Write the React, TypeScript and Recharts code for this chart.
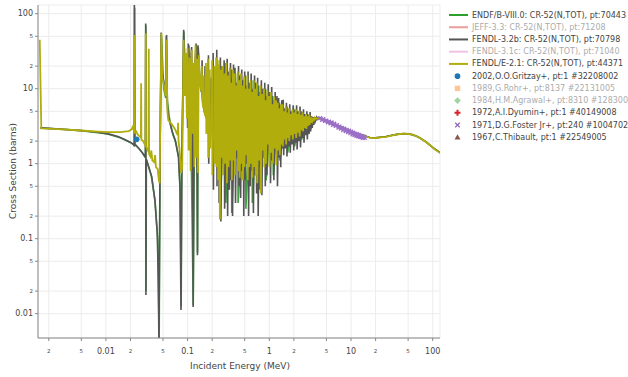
import * as React from "react"
import { ComposedChart, Line, Scatter, XAxis, YAxis, CartesianGrid } from "recharts"

// axis ticks
const xTicks = [0.002, 0.005, 0.01, 0.02, 0.05, 0.1, 0.2, 0.5, 1, 2, 5, 10, 20, 50, 100]
const yTicks = [0.01, 0.02, 0.05, 0.1, 0.2, 0.5, 1, 2, 5, 10, 20, 50, 100]

// ENDF/B-VIII.0 (energy MeV, cross section b)
const endf80: [number, number][] = [
  [0.00158, 3.0], [0.005, 2.76], [0.01, 2.52], [0.015, 2.22], [0.02, 1.92], [0.0224, 1.75], [0.0225, 120],
  [0.0227, 1.8], [0.026, 1.55], [0.0306, 1.2], [0.0308, 70], [0.031, 0.02], [0.0313, 1.15], [0.036, 0.68],
  [0.04, 0.32], [0.043, 0.1], [0.0449, 0.0045], [0.046, 1.5], [0.0478, 52], [0.051, 10], [0.054, 7.5],
  [0.0548, 50], [0.0565, 7], [0.06, 4], [0.066, 2.45], [0.072, 1.9], [0.078, 1.2], [0.0815, 0.4],
  [0.0835, 0.0125], [0.0845, 0.8], [0.0898, 58], [0.095, 12], [0.104, 38], [0.109, 5], [0.1172, 0.013],
  [0.122, 7], [0.128, 38], [0.1325, 0.065], [0.135, 36], [0.142, 12.5], [0.16, 5.2], [0.19, 3.0], [0.23, 2.05],
  [0.247, 20], [0.25, 0.2], [0.29, 22], [0.294, 0.3], [0.343, 18], [0.347, 0.22], [0.41, 16], [0.415, 0.3],
  [0.51, 15], [0.517, 0.25], [0.61, 13], [0.62, 0.3], [0.74, 11], [0.75, 0.45], [0.9, 10], [0.915, 0.6],
  [1.1, 8], [1.12, 0.7], [1.33, 6.5], [1.35, 1.1], [1.65, 5.8], [1.68, 1.4], [2.0, 5.4], [2.04, 1.7],
  [2.45, 5.0], [2.49, 2.1], [2.95, 4.6], [3.0, 2.5], [3.7, 4.1], [4.17, 4.0], [5, 3.68], [6, 3.43], [8, 3.0],
  [10, 2.69], [12, 2.51], [14, 2.39], [17, 2.23], [20, 2.21], [27, 2.3], [38, 2.48], [50, 2.51], [66, 2.28],
  [85, 1.91], [105, 1.58], [125, 1.39], [150, 1.2],
]

// FENDL-3.2b
const fendl32b: [number, number][] = [
  [0.00158, 3.0], [0.003, 2.88], [0.005, 2.76], [0.008, 2.62], [0.011, 2.48], [0.014, 2.3], [0.017, 2.1],
  [0.02, 1.92], [0.0219, 1.8], [0.0222, 1.7], [0.0223, 200], [0.0225, 1.85], [0.025, 1.62], [0.028, 1.4],
  [0.0304, 1.22], [0.0307, 74], [0.0309, 0.0178], [0.0311, 1.15], [0.0335, 0.9], [0.0364, 0.67],
  [0.0397, 0.33], [0.0425, 0.12], [0.0438, 0.03], [0.0446, 0.004], [0.0462, 2.0], [0.0475, 56], [0.049, 16],
  [0.0515, 12], [0.054, 10], [0.0553, 52], [0.0565, 6], [0.058, 4.3], [0.064, 2.8], [0.0704, 2.07],
  [0.0772, 1.24], [0.0806, 0.49], [0.083, 0.0112], [0.0855, 1.5], [0.0895, 61], [0.093, 15], [0.097, 25],
  [0.1, 3], [0.102, 40], [0.105, 6], [0.108, 20], [0.112, 36], [0.115, 3], [0.117, 0.0123], [0.12, 5],
  [0.124, 25], [0.127, 40], [0.13, 3], [0.132, 0.06], [0.134, 38], [0.138, 18], [0.141, 13], [0.148, 9],
  [0.1505, 24], [0.152, 8], [0.156, 5.8], [0.162, 4.8], [0.1635, 20], [0.165, 4.5], [0.172, 3.9],
  [0.1785, 3.4], [0.18, 28], [0.1815, 1.0], [0.183, 3.2], [0.19, 3.0], [0.1935, 14], [0.195, 2.8],
  [0.204, 2.5], [0.2055, 30], [0.207, 0.45], [0.209, 2.4], [0.216, 2.2], [0.2175, 12], [0.219, 2.1],
  [0.226, 2.05], [0.2275, 33], [0.229, 0.5], [0.231, 2.0],
  [0.24, 18], [0.243, 0.3], [0.252, 26], [0.2555, 0.17], [0.265, 20], [0.269, 1.0], [0.28, 24], [0.284, 0.25],
  [0.295, 15], [0.299, 0.7], [0.305, 25], [0.309, 0.2], [0.32, 17], [0.324, 0.45], [0.335, 22], [0.34, 0.6],
  [0.35, 14], [0.355, 0.2], [0.365, 21], [0.37, 0.9], [0.38, 19], [0.386, 0.3], [0.4, 12], [0.406, 1.2],
  [0.42, 20], [0.426, 0.5], [0.44, 15], [0.446, 0.35], [0.46, 18], [0.467, 0.8], [0.48, 13], [0.487, 0.2],
  [0.5, 17], [0.507, 0.6], [0.525, 11], [0.532, 1.0], [0.55, 17], [0.558, 0.2], [0.575, 12], [0.583, 0.5],
  [0.6, 16], [0.609, 0.8], [0.63, 10], [0.639, 0.22], [0.66, 15], [0.67, 0.7], [0.69, 12], [0.7, 0.4],
  [0.72, 14], [0.731, 0.2], [0.76, 9], [0.771, 0.9], [0.8, 13], [0.812, 0.38], [0.84, 10], [0.852, 1.2],
  [0.88, 12], [0.893, 0.5], [0.92, 8], [0.934, 0.7], [0.97, 11.5], [0.984, 1.5], [1.02, 9], [1.035, 0.55],
  [1.07, 10.5], [1.086, 1.1], [1.12, 7], [1.137, 0.6], [1.18, 9], [1.198, 1.4], [1.24, 8], [1.259, 0.5],
  [1.3, 7.5], [1.32, 1.2], [1.36, 6], [1.38, 0.9], [1.42, 7], [1.44, 1.6], [1.48, 7.1], [1.5, 1.3],
  [1.55, 5.5], [1.57, 1.6], [1.62, 6.5], [1.645, 1.25], [1.7, 5.2], [1.725, 1.7], [1.78, 6.2], [1.805, 1.4],
  [1.87, 5.0], [1.9, 1.8], [1.96, 6.0], [1.99, 1.5], [2.06, 5.2], [2.09, 1.9], [2.16, 6.0], [2.19, 1.55],
  [2.27, 5.0], [2.3, 2.0], [2.38, 5.8], [2.41, 1.65], [2.5, 4.8], [2.54, 2.2], [2.62, 5.3], [2.66, 1.9],
  [2.75, 4.6], [2.79, 2.4], [2.88, 5.0], [2.92, 2.1], [3.02, 4.5], [3.06, 2.5], [3.16, 4.9], [3.2, 2.7],
  [3.3, 4.3], [3.35, 3.0], [3.45, 4.2], [3.5, 3.3], [3.6, 4.1], [3.66, 3.7], [3.8, 4.15], [3.86, 3.9],
  [4.0, 4.05], [4.17, 4.0], [5, 3.68], [6, 3.43], [7, 3.2], [8, 3.0], [9, 2.83], [10, 2.69], [11, 2.59],
  [12, 2.51], [13, 2.45], [14, 2.39], [15.5, 2.3], [17, 2.23], [18.5, 2.2], [20, 2.21], [23, 2.25], [27, 2.3],
  [32, 2.39], [38, 2.48], [44, 2.53], [50, 2.51], [58, 2.43], [66, 2.28], [75, 2.11], [85, 1.91], [95, 1.73],
  [105, 1.58], [115, 1.48], [125, 1.39], [150, 1.2],
]

// FENDL/E-2.1
const fendlE21: [number, number][] = [
  [0.00155, 45], [0.00162, 2.95], [0.003, 2.86], [0.005, 2.77], [0.008, 2.68], [0.011, 2.63], [0.015, 2.64],
  [0.019, 2.72], [0.0205, 2.85], [0.0213, 3.1], [0.0217, 2.9], [0.0221, 2.75], [0.0223, 52], [0.0225, 2.6],
  [0.0235, 2.7], [0.0245, 2.45], [0.0255, 2.35], [0.0268, 2.25], [0.027, 11.8], [0.0272, 2.1], [0.0285, 2.0],
  [0.03, 1.8], [0.0305, 1.75], [0.0307, 55], [0.0309, 1.7], [0.032, 1.55], [0.0332, 1.45], [0.0335, 34],
  [0.0338, 1.35], [0.035, 1.25], [0.036, 1.5], [0.037, 1.1], [0.039, 1.05], [0.04, 1.3], [0.041, 0.9],
  [0.043, 0.85], [0.0445, 0.6], [0.0455, 0.55], [0.0462, 3], [0.0478, 55], [0.049, 14], [0.0515, 11],
  [0.054, 8], [0.0552, 45], [0.0565, 5], [0.058, 3.8], [0.062, 3.5], [0.066, 3.2], [0.07, 2.9], [0.073, 2.6],
  [0.0755, 2.4], [0.0765, 3.5], [0.0775, 2.0], [0.0795, 1.6], [0.0815, 1.1], [0.083, 0.75], [0.086, 0.9],
  [0.0895, 45], [0.092, 8], [0.095, 30], [0.098, 4], [0.1, 35], [0.103, 1.5], [0.106, 26], [0.109, 0.8],
  [0.112, 33], [0.115, 2.5], [0.118, 22], [0.121, 0.9], [0.125, 38], [0.128, 1.2], [0.131, 25], [0.134, 0.75],
  [0.137, 28], [0.141, 12], [0.146, 9.5], [0.1495, 20], [0.151, 7], [0.156, 5.5], [0.1575, 15], [0.159, 5],
  [0.166, 4.3], [0.168, 22], [0.1695, 2.5], [0.172, 3.8], [0.176, 3.5], [0.1775, 25], [0.179, 1.2],
  [0.181, 3.3], [0.186, 3.1], [0.187, 18], [0.189, 1.6], [0.191, 3.0], [0.198, 2.8], [0.1995, 24],
  [0.201, 0.7], [0.203, 2.6], [0.211, 2.4], [0.212, 20], [0.214, 1.0], [0.222, 2.2], [0.2235, 26],
  [0.225, 0.9], [0.233, 21], [0.236, 0.6], [0.244, 24], [0.2485, 0.18], [0.255, 18], [0.26, 1.2], [0.268, 20],
  [0.273, 0.7], [0.283, 16], [0.288, 1.0], [0.298, 22], [0.303, 0.55], [0.313, 15], [0.318, 0.9],
  [0.328, 19], [0.333, 1.1], [0.343, 12], [0.348, 0.6], [0.358, 18], [0.363, 1.1], [0.374, 16], [0.379, 0.7],
  [0.392, 11], [0.397, 1.5], [0.411, 17], [0.416, 0.8], [0.43, 13], [0.435, 0.65], [0.451, 16], [0.456, 1.0],
  [0.471, 11], [0.476, 0.6], [0.492, 14.5], [0.497, 0.9], [0.515, 10], [0.52, 1.3], [0.538, 15], [0.544, 0.6],
  [0.563, 10], [0.569, 0.9], [0.59, 13], [0.596, 1.0], [0.617, 9], [0.623, 0.65], [0.645, 13], [0.652, 0.9],
  [0.675, 10], [0.682, 0.7], [0.705, 12], [0.712, 0.55], [0.74, 8], [0.748, 1.1], [0.78, 11], [0.788, 0.4],
  [0.82, 8.5], [0.83, 1.5], [0.86, 10], [0.87, 0.9], [0.9, 7], [0.91, 1.0], [0.945, 9.5], [0.955, 1.8],
  [0.995, 8], [1.005, 0.9], [1.045, 9], [1.055, 1.4], [1.095, 6.2], [1.105, 1.0], [1.15, 7.8], [1.16, 1.6],
  [1.21, 7], [1.22, 0.95], [1.27, 6.5], [1.28, 1.5], [1.33, 5.5], [1.345, 1.3], [1.39, 6.2], [1.405, 1.8],
  [1.45, 6.2], [1.465, 1.7], [1.52, 5], [1.535, 2.1], [1.59, 5.8], [1.605, 1.8], [1.665, 4.8], [1.68, 2.2],
  [1.74, 5.5], [1.755, 2.0], [1.83, 4.6], [1.85, 2.4], [1.92, 5.3], [1.94, 2.1], [2.01, 4.8], [2.03, 2.5],
  [2.11, 5.3], [2.13, 2.2], [2.22, 4.6], [2.24, 2.6], [2.33, 5.1], [2.35, 2.3], [2.44, 4.5], [2.46, 2.8],
  [2.56, 4.8], [2.58, 2.7], [2.69, 4.3], [2.71, 3.0], [2.82, 4.6], [2.84, 2.9], [2.95, 4.3], [2.97, 3.2],
  [3.09, 4.5], [3.11, 3.3], [3.23, 4.15], [3.25, 3.5], [3.38, 4.1], [3.4, 3.7], [3.55, 4.05], [3.58, 3.85],
  [3.75, 4.05], [3.9, 3.95], [4.17, 3.95], [5, 3.65], [6, 3.4], [7, 3.17], [8, 2.97], [9, 2.8], [10, 2.67],
  [11, 2.57], [12, 2.5], [13, 2.44], [14, 2.38], [15.5, 2.3], [17, 2.22], [18.5, 2.19], [20, 2.2], [23, 2.24],
  [27, 2.28], [32, 2.38], [38, 2.47], [44, 2.52], [50, 2.5], [58, 2.42], [66, 2.27], [75, 2.1], [85, 1.9],
  [95, 1.72], [105, 1.57], [115, 1.47], [125, 1.38], [150, 1.2],
]

// experimental points
const gritzay2002: [number, number][] = [[0.0238, 2.11]]
const dyumin1972: [number, number][] = [[2.53e-8, 3.0]]
const thibault1967: [number, number][] = [[2.53e-8, 3.04]]
const foster1971: [number, number][] = [
  [4.2, 4.05], [4.4, 3.82], [4.6, 3.95], [4.8, 3.7], [5.0, 3.76], [5.2, 3.55], [5.4, 3.66], [5.6, 3.45],
  [5.8, 3.56], [6.0, 3.28], [6.25, 3.42], [6.5, 3.18], [6.75, 3.28], [7.0, 3.02], [7.25, 3.14], [7.5, 2.92],
  [7.75, 3.02], [8.0, 2.8], [8.3, 2.94], [8.6, 2.72], [8.9, 2.84], [9.2, 2.62], [9.5, 2.76], [9.8, 2.54],
  [10.1, 2.68], [10.4, 2.46], [10.7, 2.6], [11.0, 2.4], [11.3, 2.53], [11.6, 2.35], [11.9, 2.48], [12.2, 2.31],
  [12.5, 2.43], [12.8, 2.27], [13.1, 2.38], [13.4, 2.24], [13.7, 2.34], [14.0, 2.21], [14.4, 2.3], [14.8, 2.2],
]

const legendItems = [
  { name: "ENDF/B-VIII.0: CR-52(N,TOT), pt:70443", color: "#2ca02c", kind: "line", faded: false },
  { name: "JEFF-3.3: CR-52(N,TOT), pt:71208", color: "#d62728", kind: "line", faded: true },
  { name: "FENDL-3.2b: CR-52(N,TOT), pt:70798", color: "#555555", kind: "line", faded: false },
  { name: "FENDL-3.1c: CR-52(N,TOT), pt:71040", color: "#e377c2", kind: "line", faded: true },
  { name: "FENDL/E-2.1: CR-52(N,TOT), pt:44371", color: "#b0ad0c", kind: "line", faded: false },
  { name: "2002,O.O.Gritzay+, pt:1 #32208002", color: "#1f77b4", kind: "circle", faded: false },
  { name: "1989,G.Rohr+, pt:8137 #22131005", color: "#ff7f0e", kind: "square", faded: true },
  { name: "1984,H.M.Agrawal+, pt:8310 #12830002", color: "#2ca02c", kind: "diamond", faded: true },
  { name: "1972,A.I.Dyumin+, pt:1 #40149008", color: "#d62728", kind: "cross", faded: false },
  { name: "1971,D.G.Foster Jr+, pt:240 #10047025", color: "#9467bd", kind: "x", faded: false },
  { name: "1967,C.Thibault, pt:1 #22549005", color: "#8c564b", kind: "triangle", faded: false },
]

const FONT = "DejaVu Sans, Verdana, sans-serif"
const pts = (arr: [number, number][]) => arr.map(([e, s]) => ({ e, s }))

const tickLabel = (v: number) => {
  const p = Math.floor(Math.log10(v) + 1e-9)
  const m = Math.round(v / Math.pow(10, p))
  return m === 1 ? { text: String(v), major: true } : { text: String(m), major: false }
}

const XTick = (props: any) => {
  const { x, y, payload } = props
  const t = tickLabel(payload.value)
  return (
    <text x={x} y={y + 8} textAnchor="middle" dominantBaseline="central" fontFamily={FONT}
      fontSize={t.major ? 8 : 5.5} fill="#444">
      {t.text}
    </text>
  )
}

const YTick = (props: any) => {
  const { x, y, payload } = props
  const t = tickLabel(payload.value)
  return (
    <text x={x} y={y} textAnchor="end" dominantBaseline="central" fontFamily={FONT}
      fontSize={t.major ? 8 : 5.5} fill="#444">
      {t.text}
    </text>
  )
}

const marker = (kind: string, cx: number, cy: number, color: string, small = false) => {
  if (kind === "circle") return <circle cx={cx} cy={cy} r={2.8} fill={color} />
  if (kind === "square") return <rect x={cx - 2.7} y={cy - 2.7} width={5.4} height={5.4} fill={color} />
  if (kind === "diamond")
    return <path d={`M${cx},${cy - 3.3}L${cx + 3.3},${cy}L${cx},${cy + 3.3}L${cx - 3.3},${cy}Z`} fill={color} />
  if (kind === "cross")
    return <path d={`M${cx - 3},${cy}H${cx + 3}M${cx},${cy - 3}V${cy + 3}`} stroke={color} strokeWidth={2} />
  if (kind === "x") {
    const r = small ? 1.8 : 2.3
    return <path d={`M${cx - r},${cy - r}L${cx + r},${cy + r}M${cx - r},${cy + r}L${cx + r},${cy - r}`}
      stroke={color} strokeWidth={1.4} />
  }
  return <path d={`M${cx},${cy - 3}L${cx + 3},${cy + 2.2}L${cx - 3},${cy + 2.2}Z`} fill={color} />
}

const shapeFor = (kind: string, color: string, small = false) => (p: any) =>
  <g>{marker(kind, p.cx, p.cy, color, small)}</g>

const ChartLegend = () => (
  <svg width={183} height={160} style={{ position: "absolute", left: 445, top: 0 }}>
    {legendItems.map((it, i) => {
      const cy = 15 + i * 12.23
      return (
        <g key={it.name} opacity={it.faded ? 0.45 : 1}>
          {it.kind === "line"
            ? <line x1={4} x2={23} y1={cy} y2={cy} stroke={it.color} strokeWidth={2} />
            : marker(it.kind, 12.5, cy, it.color)}
          <text x={27} y={cy} dominantBaseline="central" fontFamily={FONT} fontSize={8} fill="#444">
            {it.name}
          </text>
        </g>
      )
    })}
  </svg>
)

export default function App() {
  return (
    <div style={{ position: "relative", width: 628, height: 377, background: "#fff", fontFamily: FONT }}>
      <style>{"body{margin:0}"}</style>
      <ComposedChart width={628} height={377} margin={{ top: 5, right: 188, bottom: 0, left: 0 }}>
        <CartesianGrid stroke="#ececec" />
        <XAxis dataKey="e" type="number" scale="log" domain={[0.001476, 122.8]} allowDataOverflow
          ticks={xTicks} interval={0} tick={<XTick />} tickSize={3} height={39}
          axisLine={{ stroke: "#888" }} tickLine={{ stroke: "#888" }} />
        <YAxis dataKey="s" type="number" scale="log" domain={[0.00474, 130.6]} allowDataOverflow
          ticks={yTicks} interval={0} tick={<YTick />} tickSize={3} width={38}
          axisLine={{ stroke: "#888" }} tickLine={{ stroke: "#888" }} />
        <Scatter data={pts(foster1971)} dataKey="s" fill="#9467bd" shape={shapeFor("x", "#9b6fc8", true)}
          isAnimationActive={false} />
        <Line data={pts(endf80)} dataKey="s" stroke="#3f9f3f" strokeWidth={1.6} dot={false}
          isAnimationActive={false} />
        <Line data={pts(fendl32b)} dataKey="s" stroke="#555555" strokeWidth={1.6} dot={false}
          isAnimationActive={false} />
        <Line data={pts(fendlE21)} dataKey="s" stroke="#b0ad0c" strokeWidth={1.8} dot={false}
          isAnimationActive={false} />
        <Scatter data={pts(gritzay2002)} dataKey="s" fill="#1f77b4" shape={shapeFor("circle", "#1f77b4")}
          isAnimationActive={false} />
        <Scatter data={pts(dyumin1972)} dataKey="s" fill="#d62728" shape={shapeFor("cross", "#d62728")}
          isAnimationActive={false} />
        <Scatter data={pts(thibault1967)} dataKey="s" fill="#8c564b" shape={shapeFor("triangle", "#8c564b")}
          isAnimationActive={false} />
      </ComposedChart>
      <svg width={628} height={377} style={{ position: "absolute", left: 0, top: 0, pointerEvents: "none" }}>
        <text x={240} y={366} textAnchor="middle" dominantBaseline="central" fontFamily={FONT} fontSize={9}
          fill="#444">Incident Energy (MeV)</text>
        <text x={13} y={171} textAnchor="middle" dominantBaseline="central" fontFamily={FONT} fontSize={9}
          fill="#444" transform="rotate(-90 13 171)">Cross Section (barns)</text>
      </svg>
      <ChartLegend />
    </div>
  )
}
